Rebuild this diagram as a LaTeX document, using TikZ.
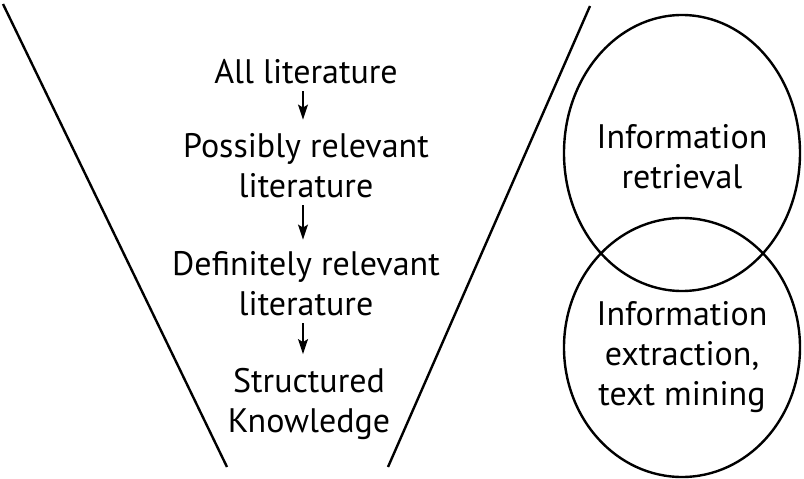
\documentclass[tikz,border=0pt]{standalone}
\usepackage{fontspec}
\setmainfont{PT Sans}
\usetikzlibrary{arrows.meta}
\begin{document}
\begin{tikzpicture}[x=1pt,y=-1pt,
  lbl/.style={inner sep=0pt, align=center, font=\fontsize{34}{40}\selectfont},
  arr/.style={line width=1.5pt, -{Stealth[length=15pt,width=10pt,inset=3pt]}},
  edge/.style={line width=2.4pt}]
\useasboundingbox (0,0) rectangle (804,479);
% funnel sides
\coordinate (l1) at (3,4);
\coordinate (l2) at (227,467);
\coordinate (r1) at (590,6);
\coordinate (r2) at (388,467);
\draw[edge] (l1) -- (l2);
\draw[edge] (r1) -- (r2);
% circles
\draw[edge] (682,153) ellipse [x radius=118, y radius=138];
\draw[edge] (682,347.5) ellipse [x radius=118, y radius=129.5];
% left texts
\node[lbl] (all) at (306,72) {All literature};
\node[lbl] (poss) at (306,166) {Possibly relevant\\literature};
\node[lbl] (def) at (306,284) {Definitely relevant\\literature};
\node[lbl] (sk) at (309,404) {Structured\\Knowledge};
\coordinate (ax) at (303,0);
% right texts
\node[lbl] (ir) at (682,157) {Information\\retrieval};
\node[lbl] (ie) at (682,357) {Information\\extraction,\\text mining};
% arrows
\draw[arr, shorten <=7pt, shorten >=14pt] (all.south -| ax) -- (poss.north -| ax);
\draw[arr, shorten <=7pt, shorten >=12pt] (poss.south -| ax) -- (def.north -| ax);
\draw[arr, shorten <=7pt, shorten >=14pt] (def.south -| ax) -- (sk.north -| ax);
\end{tikzpicture}
\end{document}
